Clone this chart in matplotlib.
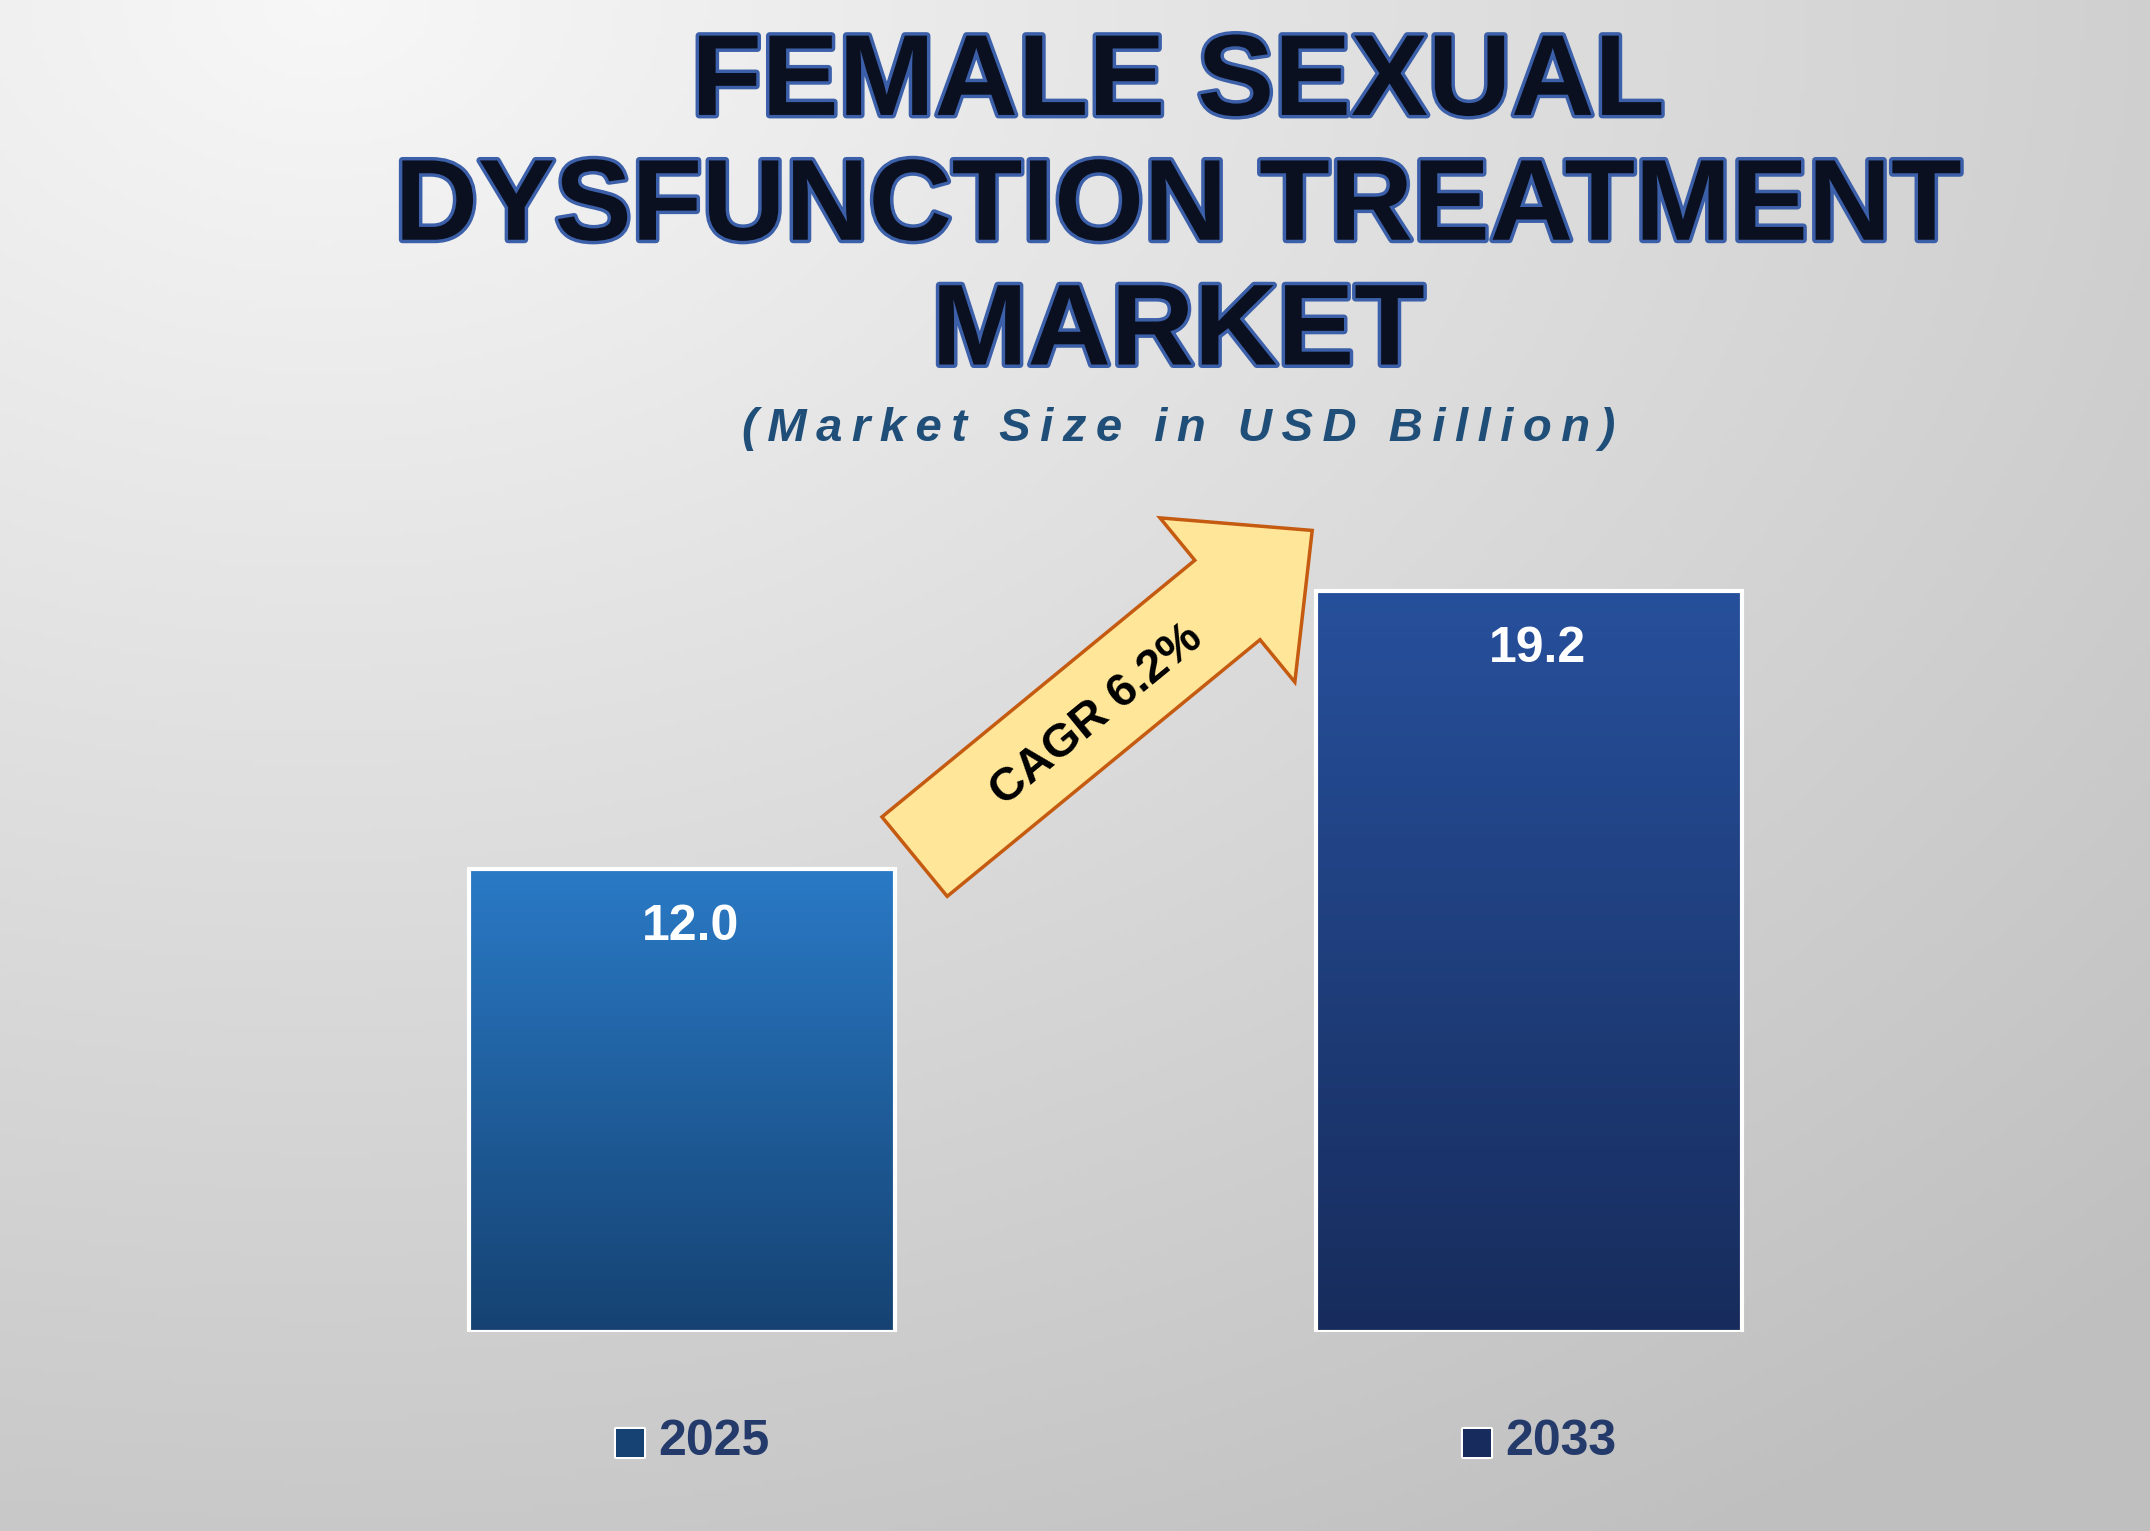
import numpy as np
import matplotlib.pyplot as plt
import matplotlib.patheffects as pe
from matplotlib.patches import FancyArrow, Rectangle

years = ['2025', '2033']
values = [12.0, 19.2]
cagr_label = 'CAGR 6.2%'
top_colors = ['#2A7AC6', '#27509C']
bottom_colors = ['#154272', '#172C5C']

plt.rcParams['font.family'] = ['Liberation Sans', 'DejaVu Sans']

fig = plt.figure(figsize=(21.5, 15.31), dpi=100)

# background: light top-left fading to grey
bg = fig.add_axes([0, 0, 1, 1])
yy, xx = np.mgrid[0:1:300j, 0:1:400j]
r = np.sqrt((xx - 0.15) ** 2 + (yy - 0.0) ** 2)
shade = 0.97 - 0.22 * np.clip(r / 1.2, 0, 1)
bg.imshow(np.dstack([shade] * 3), extent=[0, 1, 0, 1], origin='upper', aspect='auto')
bg.set_axis_off()

ax = fig.add_axes([0.0215, 0.13, 0.985, 0.62])
ax.set_xlim(-0.75, 1.75)
ax.set_ylim(0, 24.6)
ax.set_axis_off()
width = 0.503
for i, v in enumerate(values):
    bar = ax.bar(i, v, width=width, color='none', edgecolor='white', linewidth=3, zorder=3)[0]
    c0 = np.array(plt.matplotlib.colors.to_rgb(top_colors[i]))
    c1 = np.array(plt.matplotlib.colors.to_rgb(bottom_colors[i]))
    t = np.linspace(0, 1, 256)[:, None]
    grad = (c0 * (1 - t) + c1 * t)[:, None, :]
    im = ax.imshow(grad, extent=[i - width / 2, i + width / 2, 0, v], aspect='auto', zorder=2)
    im.set_clip_path(Rectangle((i - width / 2, 0), width, v, transform=ax.transData))
    ax.text(i + 0.01, v - 1.5, f'{v:.1f}', ha='center', va='center', color='white',
            fontsize=36, fontweight='bold', zorder=4)

# overlay in display-like pixel coords for arrow
ov = fig.add_axes([0, 0, 1, 1])
ov.set_xlim(0, 1568)
ov.set_ylim(1117, 0)
ov.set_axis_off()
ov.patch.set_alpha(0)
arrow = FancyArrow(667, 625, 290, -238, width=75, head_width=155, head_length=80,
                   length_includes_head=True, facecolor='#FFE699', edgecolor='#C55A11', linewidth=2.5)
ov.add_patch(arrow)
ov.text(800, 522, cagr_label, rotation=39.4, ha='center', va='center',
        fontsize=34, fontweight='bold', color='black', rotation_mode='anchor')

title = 'FEMALE SEXUAL\nDYSFUNCTION TREATMENT\nMARKET'
fig.text(0.548, 0.863, title, ha='center', va='center', fontsize=83, fontweight='heavy',
         color='#0B1020', linespacing=1.2,
         path_effects=[pe.withStroke(linewidth=5, foreground='#3B5FA8')])
subtitle = '(Market Size in USD Billion)'
fig.text(0.548, 0.72, '\u2009'.join(subtitle), ha='center', va='center',
         fontsize=34, fontweight='bold', fontstyle='italic', color='#1F4E79')

for i, y in enumerate(years):
    xc = 0.0215 + (i + 0.75) / 2.5 * 0.985 - 0.011
    fig.text(xc - 0.005, 0.058, '\u25a0', ha='right', va='center', fontsize=26,
             color=bottom_colors[i], family='DejaVu Sans',
             path_effects=[pe.withStroke(linewidth=3, foreground='white')])
    fig.text(xc, 0.058, y, ha='left', va='center', fontsize=36, fontweight='bold', color='#243A6B')

fig.savefig('out.png', dpi=100)
